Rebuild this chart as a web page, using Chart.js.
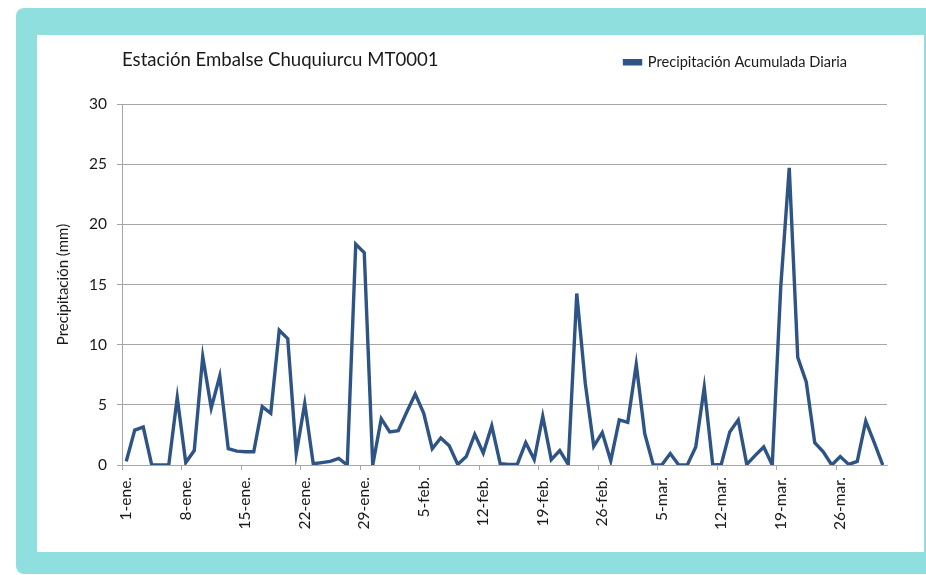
<!DOCTYPE html>
<html>
<head>
<meta charset="utf-8">
<script src="https://cdn.jsdelivr.net/npm/chart.js@4.4.1/dist/chart.umd.min.js"></script>
<style>
  body { margin: 0; background: #fff; width: 926px; height: 575px; position: relative; overflow: hidden; }
  #frame { position: absolute; left: 16px; top: 8px; width: 920px; height: 566px; background: #90dfdf; border-radius: 8px; }
  #panel { position: absolute; left: 37px; top: 35px; width: 887px; height: 517px; background: #fff; }
  #panel canvas { position: absolute; left: 0; top: 0; }
</style>
</head>
<body>
<div id="frame"></div>
<div id="panel"><canvas id="chart" width="887" height="517"></canvas></div>
<script>
// Series: daily accumulated precipitation (mm), 1-ene .. 31-mar
const months = ['ene', 'feb', 'mar'];
const monthDays = [31, 28, 31];

const precipitacion = [
    0.3, 2.9, 3.15, 0, 0, 0, 5.6, 0.2, 1.2, 9.0,
    4.75, 7.4, 1.35, 1.15, 1.1, 1.1, 4.85, 4.3, 11.2, 10.5,
    0.95, 5.1, 0.1, 0.2, 0.3, 0.55, 0, 18.35, 17.65, 0,
    3.85, 2.75, 2.85, 4.4, 5.9, 4.3, 1.35, 2.25, 1.6, 0.05,
    0.7, 2.55, 1.0, 3.25, 0.1, 0.05, 0.05, 1.85, 0.45, 4.05,
    0.45, 1.2, 0.05, 14.25, 6.8, 1.55, 2.7, 0.35, 3.75, 3.55,
    8.35, 2.6, 0, 0, 0.95, 0, 0, 1.5, 6.45, 0,
    0.05, 2.75, 3.75, 0.05, 0.8, 1.5, 0, 14.8, 24.7, 8.95,
    6.9, 1.85, 1.1, 0, 0.7, 0.05, 0.3, 3.65, 1.85, 0
];

// Category labels, e.g. "1-ene."
const dias = [];
months.forEach((m, k) => {
    for (let d = 1; d <= monthDays[k]; d++) dias.push(`${d}-${m}.`);
});

const tickEvery = 7;
const lineColor = '#2e5486';
const gridColor = '#a6a6a6';
const textColor = '#1a1a1a';
const fontFamily = 'Lato, "Liberation Sans", sans-serif';

new Chart(document.getElementById('chart'), {
    type: 'line',
    data: {
        labels: dias,
        datasets: [{
            label: 'Precipitación Acumulada Diaria',
            data: precipitacion,
            borderColor: lineColor,
            backgroundColor: lineColor,
            borderWidth: 3.4,
            pointRadius: 0,
            tension: 0,
            fill: false
        }]
    },
    options: {
        responsive: false,
        animation: false,
        layout: { padding: { top: -20, right: 37, bottom: 0, left: 0 } },
        plugins: {
            title: {
                display: true,
                text: 'Estación Embalse Chuquiurcu MT0001',
                align: 'start',
                fullSize: false,
                weight: 500,
                color: textColor,
                font: { family: fontFamily, size: 18.6, weight: 'normal' },
                padding: { top: -31.2, bottom: 33.3 }
            },
            legend: {
                position: 'top',
                align: 'end',
                labels: {
                    color: textColor,
                    font: { family: fontFamily, size: 14.6 },
                    boxWidth: 16,
                    boxHeight: 3,
                    padding: 40
                }
            },
            tooltip: { enabled: false }
        },
        scales: {
            x: {
                offset: true,
                afterFit: (s) => { s.height = 87; },
                grid: {
                    offset: true,
                    drawOnChartArea: false,
                    tickLength: 5,
                    tickColor: (c) => c.index % tickEvery === 0 ? gridColor : 'rgba(0,0,0,0)'
                },
                border: { color: gridColor },
                ticks: {
                    autoSkip: false,
                    minRotation: 90,
                    maxRotation: 90,
                    padding: 7,
                    color: textColor,
                    font: { family: fontFamily, size: 15.5 },
                    callback: (v, i) => i % tickEvery === 0 ? dias[i] : ''
                }
            },
            y: {
                min: 0,
                max: 30,
                afterFit: (s) => { s.width = 85; },
                grid: { color: gridColor, tickLength: 5, tickColor: gridColor },
                border: { color: gridColor },
                ticks: {
                    stepSize: 5,
                    padding: 10,
                    color: textColor,
                    font: { family: fontFamily, size: 15.5 }
                },
                title: {
                    display: true,
                    text: 'Precipitación (mm)',
                    color: textColor,
                    font: { family: fontFamily, size: 15 },
                    padding: { top: 17 }
                }
            }
        }
    }
});
</script>
</body>
</html>
